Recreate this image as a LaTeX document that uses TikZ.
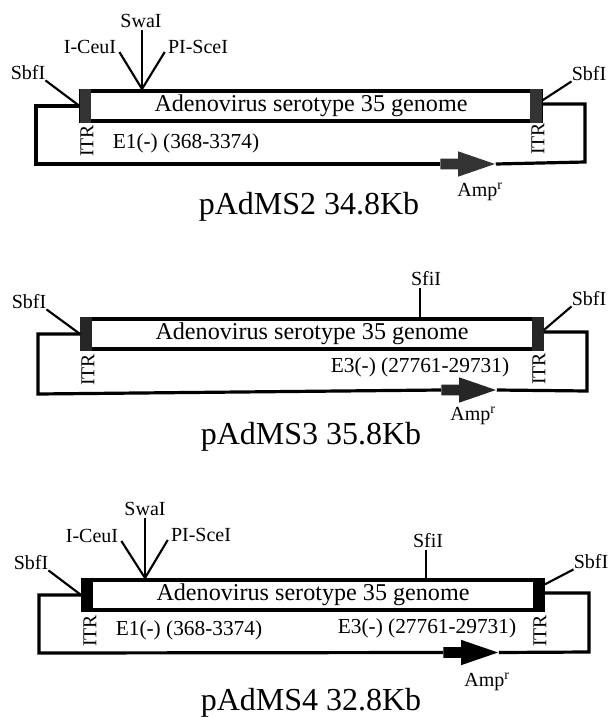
\documentclass[tikz,border=0pt]{standalone}
\usepackage{fontspec}
\setmainfont{Liberation Serif}
\usetikzlibrary{arrows.meta,positioning,shapes.arrows}

\begin{document}
\begin{tikzpicture}[
  x=0.75pt,y=-0.75pt,
  genome/.style={draw=black,line width=3pt,fill=white,inner sep=0pt,minimum width=345pt,minimum height=23pt,
    font=\fontsize{18.1}{20}\selectfont},
  itr/.style={fill=#1,inner sep=0pt,minimum width=8.5pt,minimum height=26pt},
  itrlabel/.style={rotate=90,inner sep=0pt,font=\fontsize{14.8}{16}\selectfont},
  site/.style={inner sep=0pt,font=\fontsize{15}{17}\selectfont},
  deletion/.style={inner sep=0pt,font=\fontsize{16}{18}\selectfont},
  amplabel/.style={inner sep=0pt,font=\fontsize{15}{17}\selectfont},
  plasmid/.style={inner sep=0pt,font=\fontsize{24}{26}\selectfont},
  amparrow/.style={single arrow,fill=#1,draw=none,anchor=tail,inner xsep=0pt,inner ysep=3.75pt,
    minimum height=41pt,minimum width=19pt,single arrow head extend=5.5pt,
    single arrow head indent=0pt,single arrow tip angle=38},
  backbone/.style={line width=2.4pt,draw=black,line join=miter},
  cutline/.style={line width=1.6pt,draw=black}
]
  % pAdMS2
  \path[use as bounding box] (0,0) rectangle (616,717);
  \node[genome] (genomeA) at (311,106) {\raisebox{2pt}{Adenovirus serotype 35 genome}};
  \node[itr=black!80] (itrAl) at (85.5,106) {};
  \node[itr=black!80] (itrAr) at (536,106) {};
  \node[itrlabel] (itrlabelAl) at (87,141) {ITR};
  \node[itrlabel] (itrlabelAr) at (538,139) {ITR};
  \node[deletion] (delA) at (186,143) {E1(-) (368-3374)};
  \node[site] (swaA) at (141,21) {SwaI};
  \node[site] (ceuA) at (90,47) {I-CeuI};
  \node[site] (sceA) at (198,47) {PI-SceI};
  \node[site] (sbfAl) at (28,73) {SbfI};
  \node[site] (sbfAr) at (589,74) {SbfI};
  \node[amparrow=black!80] (ampA) at (440,164) {};
  \node[amplabel] (amplabelA) at (480,192) {Amp\textsuperscript{r}};
  \node[plasmid] (nameA) at (309,207) {pAdMS2 34.8Kb};
  \coordinate (cutA) at (142,89);
  \coordinate (cornerAl) at (36,164);
  \coordinate (cornerAr) at (585,162);

  \draw[backbone] (itrAl.west) -| (cornerAl) -- (ampA.tail);
  \draw[backbone] (ampA.tip) -- (cornerAr) |- (itrAr.east |- 0,104);
  \draw[cutline] (swaA.south) ++(1,2) -- (cutA);
  \draw[cutline] (ceuA.south east) ++(3,-2) -- (cutA);
  \draw[cutline] (sceA.south west) ++(-3,-2) -- (cutA);
  \draw[cutline] (sbfAl.south east) -- (itrAl.west);
  \draw[cutline] (sbfAr.south west) -- ([yshift=4pt]itrAr.east);

  % pAdMS3
  \node[genome] (genomeB) at (312,334) {\raisebox{2pt}{Adenovirus serotype 35 genome}};
  \node[itr=black!85] (itrBl) at (86,334) {};
  \node[itr=black!85] (itrBr) at (538,334) {};
  \node[itrlabel] (itrlabelBl) at (88,370) {ITR};
  \node[itrlabel] (itrlabelBr) at (539,369) {ITR};
  \node[deletion] (delB) at (420,367) {E3(-) (27761-29731)};
  \node[site] (sfiB) at (426,279) {SfiI};
  \node[site] (sbfBl) at (29,302) {SbfI};
  \node[site] (sbfBr) at (589,299) {SbfI};
  \node[amparrow=black!85] (ampB) at (441,390) {};
  \node[amplabel] (amplabelB) at (473,416) {Amp\textsuperscript{r}};
  \node[plasmid] (nameB) at (311,437) {pAdMS3 35.8Kb};
  \coordinate (cutB) at (420,318);
  \coordinate (cornerBl) at (38,394);
  \coordinate (cornerBr) at (587,391);

  \draw[backbone] (itrBl.west) -| (cornerBl) -- (ampB.tail);
  \draw[backbone] (ampB.tip) -- (cornerBr) |- (itrBr.east |- 0,332);
  \draw[cutline] (sfiB.south) ++(-6,2) -- (cutB);
  \draw[cutline] (sbfBl.south east) -- (itrBl.west);
  \draw[cutline] (sbfBr.south west) -- ([yshift=3pt]itrBr.east);

  % pAdMS4
  \node[genome] (genomeC) at (313,595) {\raisebox{2pt}{Adenovirus serotype 35 genome}};
  \node[itr=black] (itrCl) at (87,595) {};
  \node[itr=black] (itrCr) at (539,595) {};
  \node[itrlabel] (itrlabelCl) at (90,631) {ITR};
  \node[itrlabel] (itrlabelCr) at (540,631) {ITR};
  \node[deletion] (delCe) at (189,630) {E1(-) (368-3374)};
  \node[deletion] (delCf) at (427,628) {E3(-) (27761-29731)};
  \node[site] (swaC) at (145,509) {SwaI};
  \node[site] (ceuC) at (92,536) {I-CeuI};
  \node[site] (sceC) at (201,535) {PI-SceI};
  \node[site] (sfiC) at (428,541) {SfiI};
  \node[site] (sbfCl) at (31,563) {SbfI};
  \node[site] (sbfCr) at (591,562) {SbfI};
  \node[amparrow=black] (ampC) at (443,652.5) {};
  \node[amplabel] (amplabelC) at (487,682) {Amp\textsuperscript{r}};
  \node[plasmid] (nameC) at (311,703) {pAdMS4 32.8Kb};
  \coordinate (cutCl) at (145,578);
  \coordinate (cutCr) at (426,578);
  \coordinate (cornerCl) at (39,653);
  \coordinate (cornerCr) at (589,652);

  \draw[backbone] (itrCl.west) -| (cornerCl) -- (ampC.tail);
  \draw[backbone] (ampC.tip) -- (cornerCr) |- (itrCr.east |- 0,593);
  \draw[cutline] (swaC.south) ++(0,2) -- (cutCl);
  \draw[cutline] (ceuC.south east) ++(3,-2) -- (cutCl);
  \draw[cutline] (sceC.south west) ++(-3,-2) -- (cutCl);
  \draw[cutline] (sfiC.south) ++(-2,2) -- (cutCr);
  \draw[cutline] (sbfCl.south east) -- (itrCl.west);
  \draw[cutline] (sbfCr.south west) -- ([yshift=8pt]itrCr.east);
\end{tikzpicture}
\end{document}
